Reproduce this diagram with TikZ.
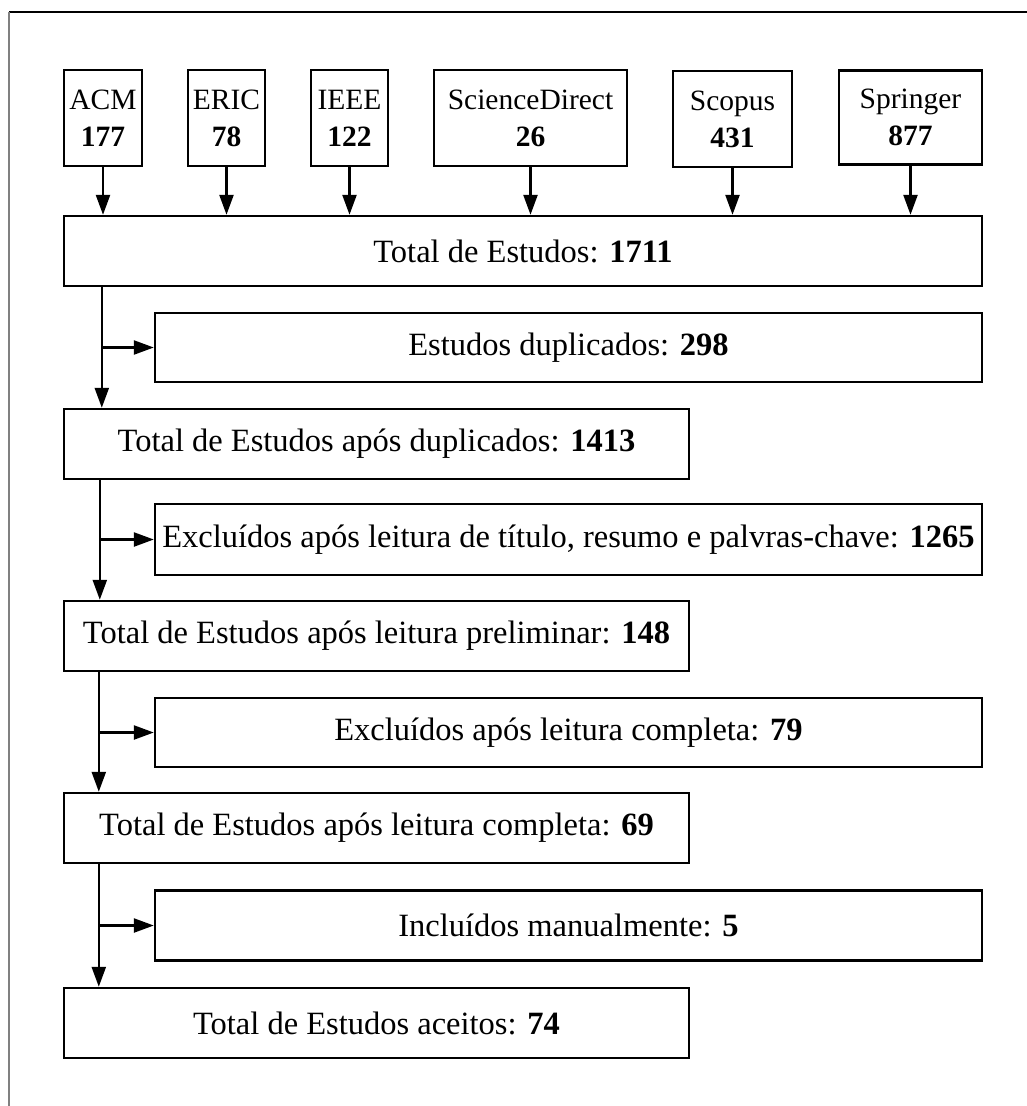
\documentclass[tikz,border=0pt]{standalone}
\usepackage{fontspec}
\setmainfont{Liberation Serif}
\usetikzlibrary{arrows.meta}

\begin{document}
\begin{tikzpicture}[x=1pt,y=-1pt,
    box/.style={draw, line width=2.4pt, align=center, inner sep=0pt,
      font=\fontsize{32.5}{37}\selectfont},
    base/.style={box, minimum height=96pt, font=\fontsize{29.5}{37}\selectfont},
    arr/.style={-{Triangle[length=20pt,width=14pt]}, line width=2.4pt}]
  \useasboundingbox (0,0) rectangle (1027,1106);
  \clip (0,0) rectangle (1027,1106);
  % frame
  \draw[line width=1.6pt] (9,12) -- (1100,12);
  \draw[line width=1.6pt, gray] (9,12) -- (9,1200);
  % bases
  \node[base, minimum width=78pt] (acm) at (103,118) {ACM\\\textbf{177}};
  \node[base, minimum width=77pt] (eric) at (226.5,118) {ERIC\\\textbf{78}};
  \node[base, minimum width=77pt] (ieee) at (349.5,118) {IEEE\\\textbf{122}};
  \node[base, minimum width=193pt] (sd) at (530.5,118) {ScienceDirect\\\textbf{26}};
  \node[base, minimum width=119pt] (scopus) at (732.5,119) {Scopus\\\textbf{431}};
  \node[base, minimum width=143pt, minimum height=94pt] (springer) at (910.5,117.5) {Springer\\\textbf{877}};
  % etapas
  \node[box, minimum width=918pt, minimum height=70pt] (total) at (523,251) {Total de Estudos: \textbf{1711}};
  \node[box, minimum width=827pt, minimum height=69pt] (dup) at (568.5,347.5) {Estudos duplicados: \textbf{298}};
  \node[box, minimum width=625pt, minimum height=70pt] (totdup) at (376.5,444) {Total de Estudos após duplicados: \textbf{1413}};
  \node[box, minimum width=827pt, minimum height=71pt] (excl) at (568.5,539.5) {Excluídos após leitura de título, resumo e palvras-chave: \textbf{1265}};
  \node[box, minimum width=625pt, minimum height=70pt] (totprel) at (376.5,636) {Total de Estudos após leitura preliminar: \textbf{148}};
  \node[box, minimum width=827pt, minimum height=69pt] (exclcomp) at (568.5,732.5) {Excluídos após leitura completa: \textbf{79}};
  \node[box, minimum width=625pt, minimum height=70pt] (totcomp) at (376.5,828) {Total de Estudos após leitura completa: \textbf{69}};
  \node[box, minimum width=827pt, minimum height=70pt] (incl) at (568.5,925.5) {Incluídos manualmente: \textbf{5}};
  \node[box, minimum width=625pt, minimum height=70pt] (aceitos) at (376.5,1023) {Total de Estudos aceitos: \textbf{74}};
  % setas das bases
  \foreach \b in {acm,eric,ieee,sd,scopus,springer}
    \draw[arr] (\b) -- (\b |- total.north);
  % tronco
  \coordinate (j1) at ([xshift=39pt]total.south west);
  \coordinate (j2) at ([xshift=37pt]totdup.south west);
  \coordinate (j3) at ([xshift=36pt]totprel.south west);
  \coordinate (j4) at ([xshift=36pt]totcomp.south west);
  \draw[arr] (j1) -- (j1 |- totdup.north);
  \draw[arr] (j1 |- dup.west) -- (dup.west);
  \draw[arr] (j2) -- (j2 |- totprel.north);
  \draw[arr] (j2 |- excl.west) -- (excl.west);
  \draw[arr] (j3) -- (j3 |- totcomp.north);
  \draw[arr] (j3 |- exclcomp.west) -- (exclcomp.west);
  \draw[arr] (j4) -- (j4 |- aceitos.north);
  \draw[arr] (j4 |- incl.west) -- (incl.west);
\end{tikzpicture}
\end{document}
